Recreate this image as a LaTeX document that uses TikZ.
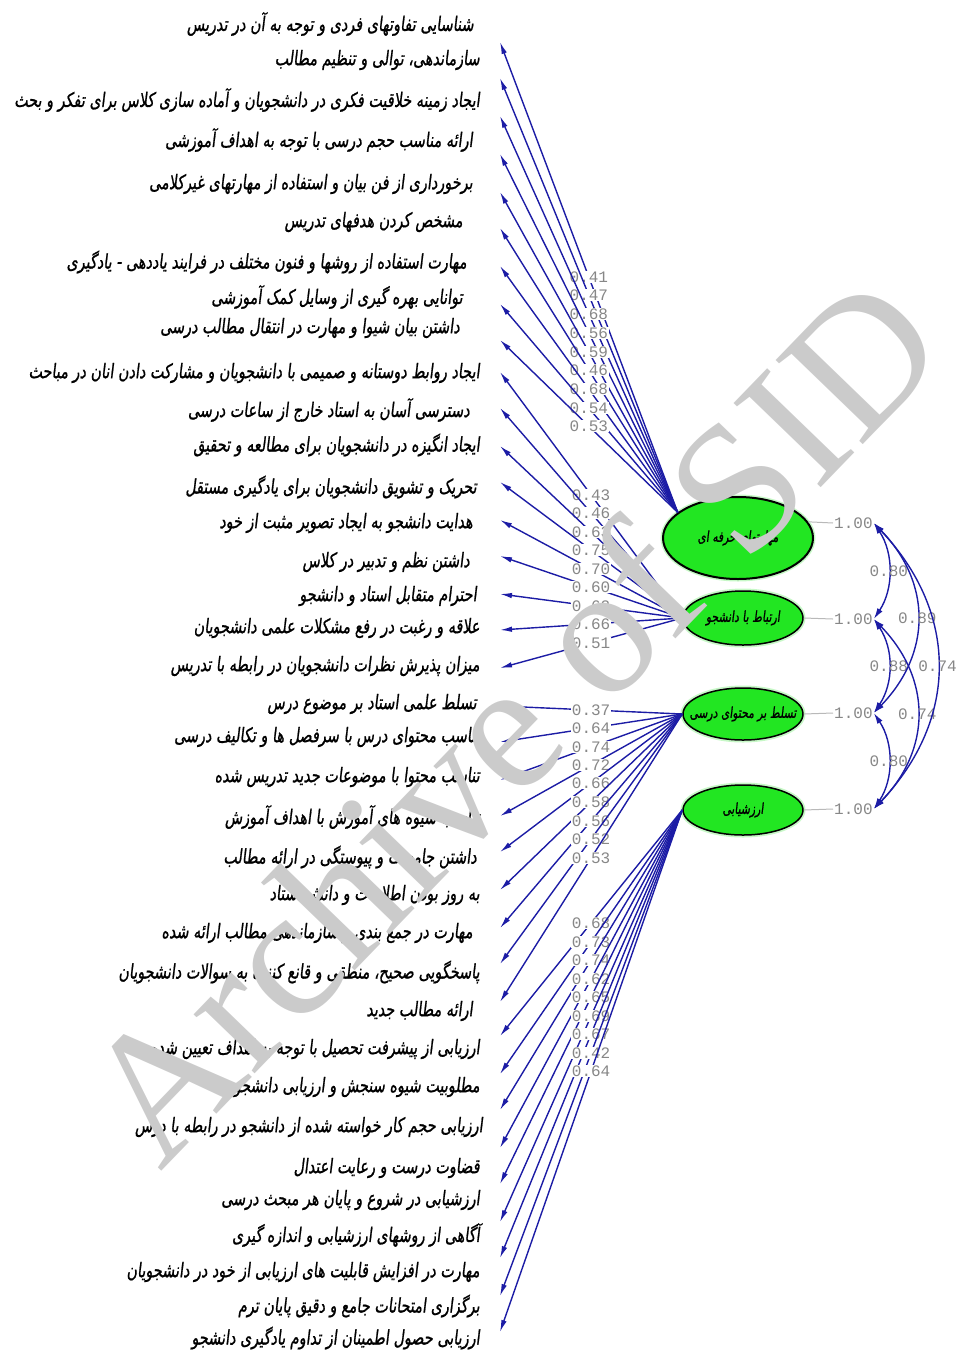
\documentclass[tikz,border=0pt]{standalone}
\usepackage{fontspec}
\usetikzlibrary{arrows.meta,shapes.geometric}
\TeXXeTstate=1
\newfontfamily\fa[Script=Arabic,FakeSlant=0.12,FakeStretch=0.72,FakeBold=0.9]{DejaVu Sans}
\newfontfamily\monof{Liberation Mono}
\newfontfamily\wmfont{Liberation Serif}
\definecolor{lblue}{RGB}{28,28,165}
\definecolor{egreen}{RGB}{34,230,34}
\definecolor{lgray}{RGB}{135,135,135}
\definecolor{vgray}{RGB}{185,185,185}
\definecolor{wmgray}{RGB}{203,203,203}
\newcommand{\fat}[1]{\fa\beginR #1\endR}
\begin{document}
\begin{tikzpicture}[x=1pt,y=-1pt,
  item/.style={anchor=east, inner sep=0pt, font=\fa\fontsize{20}{22}\selectfont},
  latent/.style={ellipse, draw=black, line width=1.5pt, fill=egreen, inner xsep=-20pt, inner ysep=0pt,
     preaction={draw=egreen!50, line width=5pt, opacity=0.5},
     font=\fa\fontsize{15}{16}\selectfont},
  load/.style={draw=lblue, line width=1.4pt, -{Latex[length=12pt,width=5.5pt]}},
  coef/.style={font=\monof\fontsize{16}{16}\selectfont, text=lgray, inner sep=0.5pt},
  coefbg/.style={coef, fill=white},
  corr/.style={draw=lblue, line width=1.4pt, {Latex[length=11pt,width=6pt]}-{Latex[length=11pt,width=6pt]}},
  varline/.style={draw=vgray, line width=1pt},
  varlbl/.style={coef, anchor=west, inner sep=1pt}]
\useasboundingbox (0,0) rectangle (959,1350);

% latent variables
\node[latent, line width=2pt, minimum width=150pt, minimum height=82pt] (e1) at (738,538) {\fat{مهارتهای حرفه ای}};
\node[latent, minimum width=120pt, minimum height=54pt] (e2) at (743,618) {\fat{ارتباط با دانشجو}};
\node[latent, minimum width=120pt, minimum height=52pt] (e3) at (743,714) {\fat{تسلط بر محتوای درسی}};
\node[latent, minimum width=120pt, minimum height=50pt] (e4) at (743,810) {\fat{ارزشیابی}};

% variances
\node[varlbl] (v1) at (833,523) {1.00};
\node[varlbl] (v2) at (833,619) {1.00};
\node[varlbl] (v3) at (833,713) {1.00};
\node[varlbl] (v4) at (833,809) {1.00};
\draw[varline] (e1.13) -- (v1.west);
\draw[varline] (e2.east) -- (v2.west);
\draw[varline] (e3.east) -- (v3.west);
\draw[varline] (e4.east) -- (v4.west);

% correlations
\draw[corr] (v1.east) .. controls +(20,30) and +(20,-30) .. (v2.east) node[coef,pos=0.5] {0.80};
\draw[corr] (v2.east) .. controls +(20,30) and +(20,-30) .. (v3.east) node[coef,pos=0.5] {0.88};
\draw[corr] (v3.east) .. controls +(20,30) and +(20,-30) .. (v4.east) node[coef,pos=0.5] {0.80};
\draw[corr] (v1.east) .. controls +(58,60) and +(58,-60) .. (v3.east) node[coef,pos=0.5] {0.89};
\draw[corr] (v2.east) .. controls +(58,60) and +(58,-60) .. (v4.east) node[coef,pos=0.5] {0.74};
\draw[corr] (v1.east) .. controls +(85,90) and +(85,-90) .. (v4.east) node[coef,pos=0.5] {0.74};

% indicator texts
\node[item] (i1)  at (474,24)   {\fat{شناسایی تفاوتهای فردی و توجه به آن در تدریس}};
\node[item] (i2)  at (480,60)   {\fat{سازماندهی، توالی و تنظیم مطالب}};
\node[item] (i3)  at (480,100)  {\fat{ایجاد زمینه خلاقیت فکری در دانشجویان و آماده سازی کلاس برای تفکر و بحث}};
\node[item] (i4)  at (473,140)  {\fat{ارائه مناسب حجم درسی با توجه به اهداف آموزشی}};
\node[item] (i5)  at (473,184)  {\fat{برخورداری از فن بیان و استفاده از مهارتهای غیرکلامی}};
\node[item] (i6)  at (463,222)  {\fat{مشخص کردن هدفهای تدریس}};
\node[item] (i7)  at (467,262)  {\fat{مهارت استفاده از روشها و فنون مختلف در فرایند یاددهی - یادگیری}};
\node[item] (i8)  at (463,297)  {\fat{توانایی بهره گیری از وسایل کمک آموزشی}};
\node[item] (i9)  at (460,328)  {\fat{داشتن بیان شیوا و مهارت در انتقال مطالب درسی}};
\node[item] (i10) at (480,373)  {\fat{ایجاد روابط دوستانه و صمیمی با دانشجویان و مشارکت دادن انان در مباحث}};
\node[item] (i11) at (470,410)  {\fat{دسترسی آسان به استاد خارج از ساعات درسی}};
\node[item] (i12) at (480,445)  {\fat{ایجاد انگیزه در دانشجویان برای مطالعه و تحقیق}};
\node[item] (i13) at (477,487)  {\fat{تحریک و تشویق دانشجویان برای یادگیری مستقل}};
\node[item] (i14) at (473,523)  {\fat{هدایت دانشجو به ایجاد تصویر مثبت از خود}};
\node[item] (i15) at (470,562)  {\fat{داشتن نظم و تدبیر در کلاس}};
\node[item] (i16) at (477,596)  {\fat{احترام متقابل استاد و دانشجو}};
\node[item] (i17) at (480,628)  {\fat{علاقه و رغبت در رفع مشکلات علمی دانشجویان}};
\node[item] (i18) at (480,666)  {\fat{میزان پذیرش نظرات دانشجویان در رابطه با تدریس}};
\node[item] (i19) at (477,704)  {\fat{تسلط علمی استاد بر موضوع درس}};
\node[item] (i20) at (480,737)  {\fat{تناسب محتوای درس با سرفصل ها و تکالیف درسی}};
\node[item] (i21) at (480,777)  {\fat{تناسب محتوا با موضوعات جدید تدریس شده}};
\node[item] (i22) at (480,817)  {\fat{تناسب شیوه های آموزش با اهداف آموزش}};
\node[item] (i23) at (477,857)  {\fat{داشتن جامعیت و پیوستگی در ارائه مطالب}};
\node[item] (i24) at (480,895)  {\fat{به روز بودن اطلاعات و دانش استاد}};
\node[item] (i25) at (473,933)  {\fat{مهارت در جمع بندی و سازماندهی مطالب ارائه شده}};
\node[item] (i26) at (480,972)  {\fat{پاسخگویی صحیح، منطقی و قانع کننده به سوالات دانشجویان}};
\node[item] (i27) at (473,1011) {\fat{ارائه مطالب جدید}};
\node[item] (i28) at (480,1049) {\fat{ارزیابی از پیشرفت تحصیل با توجه به اهداف تعیین شده}};
\node[item] (i29) at (480,1087) {\fat{مطلوبیت شیوه سنجش و ارزیابی دانشجو}};
\node[item] (i30) at (483,1127) {\fat{ارزیابی حجم کار خواسته شده از دانشجو در رابطه با درس}};
\node[item] (i31) at (480,1168) {\fat{قضاوت درست و رعایت اعتدال}};
\node[item] (i32) at (480,1200) {\fat{ارزشیابی در شروع و پایان هر مبحث درسی}};
\node[item] (i33) at (480,1235) {\fat{آگاهی از روشهای ارزشیابی و اندازه گیری}};
\node[item] (i34) at (480,1272) {\fat{مهارت در افزایش قابلیت های ارزیابی از خود در دانشجویان}};
\node[item] (i35) at (480,1306) {\fat{برگزاری امتحانات جامع و دقیق پایان ترم}};
\node[item] (i36) at (480,1338) {\fat{ارزیابی حصول اطمینان از تداوم یادگیری دانشجو}};

% arrow tips beside the indicators
\foreach \k/\y in {1/42,2/78,3/116,4/154,5/192,6/228,7/266,8/304,9/340,
  10/372,11/408,12/446,13/482,14/520,15/556,16/594,17/630,18/668,
  19/706,20/742,21/780,22/816,23/852,24/890,25/928,26/964,27/1002,
  28/1036,29/1074,30/1110,31/1148,32/1184,33/1222,34/1258,35/1296,36/1332}
  {\coordinate (t\k) at (500,\y);}

% loadings
\foreach \k/\v in {1/0.41,2/0.47,3/0.68,4/0.56,5/0.59,6/0.46,7/0.68,8/0.54,9/0.53}
  {\draw[load] (e1.157) -- (t\k) node[coefbg,pos=0.5] {\v};}
\foreach \k/\v in {10/0.43,11/0.46,12/0.63,13/0.75,14/0.70,15/0.60,16/0.62,17/0.66,18/0.51}
  {\draw[load] (e2.west) -- (t\k) node[coefbg,pos=0.5] {\v};}
\foreach \k/\v in {19/0.37,20/0.64,21/0.74,22/0.72,23/0.66,24/0.58,25/0.56,26/0.52,27/0.53}
  {\draw[load] (e3.west) -- (t\k) node[coefbg,pos=0.5] {\v};}
\foreach \k/\v in {28/0.68,29/0.73,30/0.74,31/0.62,32/0.65,33/0.69,34/0.67,35/0.42,36/0.64}
  {\draw[load] (e4.west) -- (t\k) node[coefbg,pos=0.5] {\v};}

% watermark
\node[rotate=46, text=wmgray, inner sep=0pt, font=\wmfont\fontsize{185}{185}\selectfont] (wm) at (510,718) {Archive of SID};
\end{tikzpicture}
\end{document}
